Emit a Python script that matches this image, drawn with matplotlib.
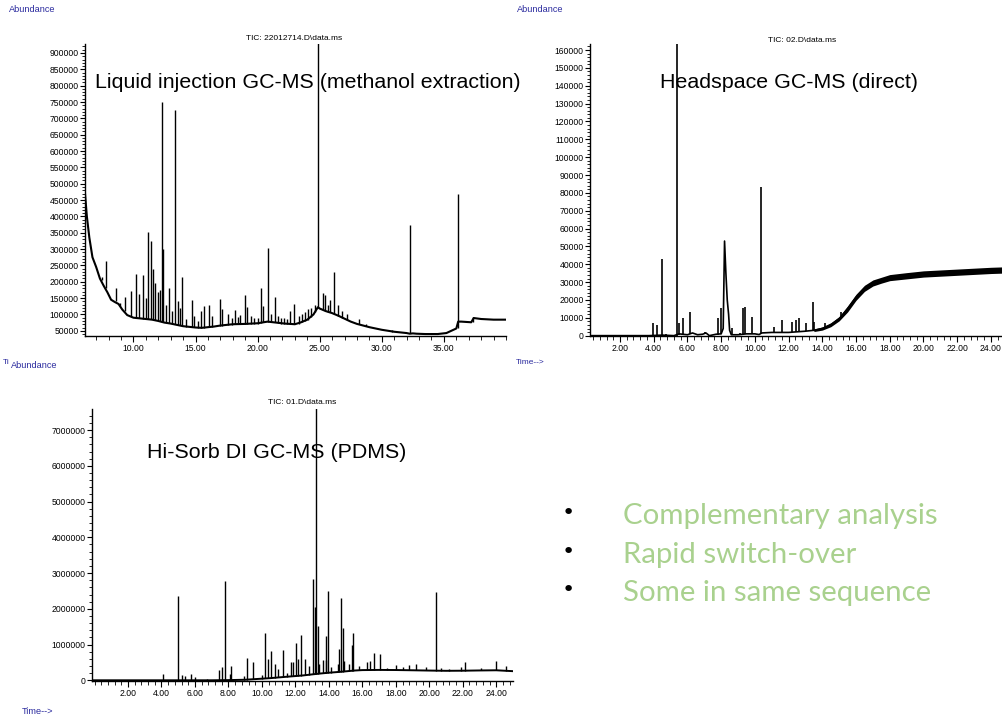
import matplotlib
matplotlib.use("Agg")
import matplotlib.pyplot as plt
from matplotlib.ticker import MultipleLocator, FixedLocator, FuncFormatter

plt.rcParams['font.family'] = ['Liberation Sans', 'DejaVu Sans']

W, H = 1003, 718

# ---------------- data: liquid injection (methanol extraction) ----------------
liq_base_t = [6.1, 6.25, 6.45, 6.7, 7.0, 7.3, 7.6, 7.9, 8.2, 8.5, 8.8, 9.1, 9.5, 10.0,
              10.5, 11.0, 11.5, 12.0, 12.5, 13.0, 13.5, 14.0, 14.5, 15.0, 15.5, 16.0,
              16.5, 17.0, 18.0, 19.0, 20.0, 20.8, 21.5, 22.2, 23.0, 23.5, 24.0, 24.5,
              24.85, 25.0, 25.5, 26.0, 26.5, 27.0, 27.5, 28.0, 29.0, 30.0, 31.0, 32.0,
              32.25, 32.5, 32.8, 33.5, 34.5, 35.2, 35.6, 36.0, 36.15, 36.4, 37.2, 37.4,
              38.0, 39.0, 40.0]
liq_base_y = [470000, 400000, 335000, 275000, 245000, 210000, 188000, 168000, 145000,
              138000, 132000, 115000, 98000, 90000, 88000, 86000, 84000, 80000, 75000,
              72000, 68000, 64000, 62000, 60000, 59000, 61000, 63000, 66000, 70000,
              71000, 73000, 78000, 75000, 72000, 70000, 76000, 84000, 100000, 122000,
              118000, 110000, 104000, 96000, 87000, 78000, 71000, 61000, 53000, 47000,
              43000, 41000, 42000, 41000, 40000, 40000, 43000, 50000, 57000, 78000,
              78000, 76000, 89000, 86000, 84000, 84000]
liq_peak_t = [7.50, 7.77, 8.58, 8.88, 9.32, 9.81, 10.19, 10.47, 10.78, 11.00, 11.18,
              11.43, 11.58, 11.72, 11.96, 12.10, 12.28, 12.39, 12.60, 12.88, 13.10,
              13.33, 13.57, 13.75, 13.93, 14.25, 14.68, 14.90, 15.20, 15.46, 15.67,
              16.08, 16.30, 16.94, 17.15, 17.58, 17.90, 18.15, 18.38, 18.60, 18.98,
              19.14, 19.45, 19.70, 20.00, 20.24, 20.45, 20.86, 21.10, 21.37, 21.64,
              21.90, 22.10, 22.40, 22.61, 22.96, 23.30, 23.60, 23.85, 24.05, 24.30,
              24.60, 24.89, 25.27, 25.45, 25.65, 25.81, 26.15, 26.47, 26.80, 27.23,
              28.20, 28.70, 30.80, 32.31, 36.10, 37.36]
liq_peak_h = [216000, 262000, 182000, 136000, 153000, 172000, 223000, 162000, 221000,
              150000, 352000, 325000, 240000, 195000, 170000, 175000, 750000, 300000,
              130000, 182000, 110000, 725000, 140000, 120000, 214000, 85000, 145000,
              95000, 80000, 109000, 126000, 129000, 95000, 147000, 118000, 102000,
              90000, 113000, 92000, 98000, 160000, 122000, 95000, 88000, 90000,
              182000, 126000, 303000, 100000, 154000, 95000, 88000, 90000, 85000,
              111000, 131000, 95000, 100000, 108000, 118000, 120000, 130000, 960000,
              167000, 160000, 130000, 144000, 231000, 129000, 110000, 102000, 85000,
              72000, 52000, 373000, 470000, 92000]
liq_peak_base = [205000, 180000, 140000, 125000, 110000, 95000, 90000, 88000, 87000,
                 86000, 86000, 85000, 85000, 84000, 82000, 80000, 78000, 77000, 76000,
                 74000, 72000, 70000, 68000, 67000, 66000, 63000, 62000, 61000, 60000,
                 60000, 60000, 62000, 62000, 65000, 66000, 68000, 69000, 70000, 70000,
                 71000, 71000, 71000, 71000, 71000, 72000, 74000, 76000, 78000, 77000,
                 76000, 74000, 72000, 72000, 71000, 70000, 70000, 72000, 76000, 80000,
                 84000, 92000, 108000, 122000, 115000, 112000, 108000, 106000, 102000,
                 96000, 90000, 84000, 70000, 64000, 47000, 42000, 60000, 78000]

# ---------------- data: headspace (direct) ----------------
hs_base_t = [0.22, 3.7, 4.5, 5.2, 5.5, 6.0, 6.3, 6.6, 6.9, 7.1, 7.3, 7.7, 8.0, 8.12,
             8.2, 8.28, 8.36, 8.44, 8.5, 8.6, 9.0, 9.5, 10.0, 10.25, 10.4, 11.0, 12.0,
             13.0, 13.5, 14.0, 14.5, 15.0, 15.5, 16.0, 16.5, 17.0, 17.5, 18.0, 19.0,
             20.0, 21.0, 22.0, 23.0, 24.0, 25.6]
hs_base_y = [0, 0, 300, 0, 1000, 500, 1500, 500, 800, 1500, 0, 800, 1000, 4000,
             53000, 35000, 20000, 12000, 3000, 500, 500, 1000, 1000, 600, 1500, 1800,
             1800, 2500, 3000, 4000, 6000, 9500, 15000, 21500, 26500, 29500, 31000,
             32500, 33500, 34500, 35000, 35500, 36000, 36500, 37000]
hs_band_t = [13.5, 14.0, 14.5, 15.0, 15.5, 16.0, 16.5, 17.0, 17.5, 18.0, 19.0, 20.0,
             21.0, 22.0, 23.0, 24.0, 25.6]
hs_band_lo = [2300, 3100, 5000, 8300, 13300, 19800, 24800, 27800, 29400, 30800, 31800,
              32800, 33300, 33800, 34300, 34800, 35300]
hs_band_hi = [3700, 4900, 7200, 10700, 16700, 23200, 28200, 31200, 32700, 34200, 35300,
              36300, 36800, 37300, 37800, 38300, 38800]
hs_peak_t = [3.98, 4.17, 4.47, 4.70, 5.38, 5.52, 5.76, 6.15, 7.06, 7.83, 7.97, 8.64,
             9.10, 9.31, 9.43, 9.83, 10.36, 11.11, 11.59, 12.20, 12.42, 12.60, 13.03,
             13.43, 13.50, 14.16, 15.09]
hs_peak_h = [6900, 5800, 42900, 1200, 175000, 7300, 9700, 13000, 2200, 9700, 15700,
             4100, 1500, 15300, 16200, 10400, 83400, 5000, 8800, 7800, 8800, 10000,
             6900, 18600, 7800, 6900, 13400]
hs_peak_base = [0, 0, 0, 0, 0, 500, 500, 800, 800, 500, 800, 500, 500, 700, 700, 900,
                800, 1800, 1800, 1800, 2000, 2000, 2500, 3000, 3000, 4000, 9500]

# ---------------- data: Hi-Sorb DI (PDMS) ----------------
hsb_base_t = [-0.15, 7.0, 8.0, 9.0, 9.5, 10.0, 10.5, 11.0, 11.5, 12.0, 12.5, 13.0,
              13.5, 14.0, 14.5, 15.0, 15.5, 16.0, 17.0, 18.0, 19.0, 20.0, 21.0, 22.0,
              23.0, 24.0, 25.0]
hsb_base_y = [0, 0, 5000, 15000, 30000, 45000, 60000, 80000, 100000, 118000, 138000,
              165000, 190000, 212000, 230000, 250000, 272000, 285000, 290000, 287000,
              280000, 272000, 265000, 268000, 275000, 280000, 255000]
hsb_peak_t = [3.53, 4.07, 4.99, 5.23, 5.41, 5.77, 6.03, 6.70, 7.46, 7.60, 7.82, 8.10,
              8.18, 8.94, 9.11, 9.47, 9.99, 10.17, 10.39, 10.55, 10.77, 10.95, 11.27,
              11.50, 11.75, 11.85, 12.06, 12.18, 12.32, 12.60, 12.80, 13.08, 13.16,
              13.24, 13.36, 13.44, 13.64, 13.80, 13.84, 13.92, 14.10, 14.53, 14.63,
              14.73, 14.83, 14.93, 15.23, 15.39, 15.47, 15.80, 16.25, 16.47, 16.67,
              17.03, 17.50, 18.02, 18.40, 18.76, 19.22, 19.80, 20.41, 20.70, 21.20,
              21.91, 22.11, 23.10, 24.00, 24.60]
hsb_peak_h = [20000, 167000, 2360000, 139000, 120000, 167000, 100000, 40000, 278000,
              380000, 2780000, 185000, 389000, 120000, 611000, 518000, 150000, 1320000,
              602000, 833000, 444000, 305000, 842000, 200000, 518000, 500000, 1040000,
              583000, 1280000, 583000, 400000, 2830000, 2060000, 7700000, 1530000,
              444000, 565000, 565000, 1230000, 2500000, 370000, 444000, 889000, 2300000,
              1460000, 537000, 444000, 1000000, 1320000, 400000, 509000, 537000, 750000,
              722000, 330000, 435000, 380000, 417000, 444000, 380000, 2480000, 330000,
              320000, 380000, 509000, 330000, 528000, 398000]
hsb_peak_base = [0, 0, 0, 0, 0, 0, 0, 0, 0, 0, 0, 10000, 10000, 15000, 20000, 30000,
                 45000, 50000, 55000, 60000, 70000, 80000, 90000, 100000, 110000,
                 110000, 120000, 125000, 130000, 140000, 150000, 170000, 175000, 180000,
                 185000, 190000, 200000, 205000, 205000, 210000, 215000, 230000, 235000,
                 240000, 245000, 250000, 260000, 270000, 270000, 280000, 290000, 290000,
                 290000, 290000, 285000, 285000, 285000, 280000, 280000, 275000, 270000,
                 265000, 265000, 265000, 270000, 275000, 280000, 270000]

titles = ["TIC: 22012714.D\\data.ms", "TIC: 02.D\\data.ms", "TIC: 01.D\\data.ms"]
labels = ["Liquid injection GC-MS (methanol extraction)", "Headspace GC-MS (direct)",
          "Hi-Sorb DI GC-MS (PDMS)"]
bullets = ["Complementary analysis", "Rapid switch-over", "Some in same sequence"]

# ---------------- drawing ----------------
fig = plt.figure(figsize=(W / 100, H / 100), dpi=100)
fig.patch.set_facecolor('white')


def ax_rect(left, right, top, bottom):
    return [left / W, 1 - bottom / H, (right - left) / W, (bottom - top) / H]


def style(ax, xmaj, xmin_step, ymaj, ymin_step):
    for s in ['top', 'right']:
        ax.spines[s].set_visible(False)
    for s in ['left', 'bottom']:
        ax.spines[s].set_linewidth(1.0)
    ax.xaxis.set_major_locator(FixedLocator(xmaj))
    ax.xaxis.set_minor_locator(MultipleLocator(xmin_step))
    ax.yaxis.set_major_locator(FixedLocator(ymaj))
    ax.yaxis.set_minor_locator(MultipleLocator(ymin_step))
    ax.xaxis.set_major_formatter(FuncFormatter(lambda v, p: f"{v:.2f}"))
    ax.yaxis.set_major_formatter(FuncFormatter(lambda v, p: f"{v:.0f}"))
    ax.tick_params(axis='both', which='major', labelsize=6.2, length=3.5, width=0.8,
                   pad=1.0, direction='out')
    ax.tick_params(axis='both', which='minor', length=2.0, width=0.6, direction='out')
    ax.tick_params(axis='x', which='major', length=4.5)
    ax.tick_params(axis='x', which='minor', length=3.0)


# Top-left
ax1 = fig.add_axes(ax_rect(85, 506, 44, 336))
ax1.plot(liq_base_t, liq_base_y, color='black', lw=1.5)
ax1.vlines(liq_peak_t, liq_peak_base, liq_peak_h, color='black', lw=1.0)
ax1.set_xlim(6.1, 40.0)
ax1.set_ylim(34000, 927500)
style(ax1, [10, 15, 20, 25, 30, 35], 1.0, list(range(50000, 900001, 50000)), 10000)

# Top-right
tr_left = 590
tr_right = tr_left + (25.6 - 0.22) * 16.86
ax2 = fig.add_axes(ax_rect(tr_left, tr_right, 44, 336))
ax2.fill_between(hs_band_t, hs_band_lo, hs_band_hi, color='black', lw=0)
ax2.plot(hs_base_t, hs_base_y, color='black', lw=1.2)
ax2.vlines(hs_peak_t, hs_peak_base, hs_peak_h, color='black', lw=1.2)
ax2.set_xlim(0.22, 25.6)
ax2.set_ylim(-200, 163400)
style(ax2, list(range(2, 25, 2)), 0.4, list(range(0, 160001, 10000)), 2000)

# Bottom
ax3 = fig.add_axes(ax_rect(92, 513, 409, 681))
ax3.plot(hsb_base_t, hsb_base_y, color='black', lw=1.4)
ax3.vlines(hsb_peak_t, hsb_peak_base, hsb_peak_h, color='black', lw=1.0)
ax3.set_xlim(-0.15, 25.0)
ax3.set_ylim(-20000, 7590000)
style(ax3, list(range(2, 25, 2)), 0.4, list(range(0, 7000001, 1000000)), 200000)


def ftext(x, y, s, **kw):
    fig.text(x / W, 1 - y / H, s, **kw)


blue = '#2a2a9e'
ftext(9, 9, "Abundance", fontsize=6.6, color=blue, va='center', ha='left')
ftext(517, 9, "Abundance", fontsize=6.6, color=blue, va='center', ha='left')
ftext(3, 362, "Ti", fontsize=6.0, color=blue, va='center', ha='left')
ftext(11, 366, "Abundance", fontsize=6.6, color=blue, va='center', ha='left')
ftext(516, 363, "Time-->", fontsize=6.0, color=blue, va='center', ha='left')
ftext(22, 711, "Time-->", fontsize=6.6, color=blue, va='center', ha='left')

# chart titles
ftext(294, 39, titles[0], fontsize=6.0, ha='center', va='center')
ftext(802, 40, titles[1], fontsize=6.0, ha='center', va='center')
ftext(302, 402, titles[2], fontsize=6.0, ha='center', va='center')

# big labels
ftext(95, 83, labels[0], fontsize=15.4, ha='left', va='center')
ftext(660, 83, labels[1], fontsize=15.4, ha='left', va='center')
ftext(147, 453, labels[2], fontsize=15.4, ha='left', va='center')

# bullets
green = '#a9d18e'
for i, (yb, s) in enumerate(zip([524, 563, 601], bullets)):
    ftext(568, yb - 11, "\u2022", fontsize=16, color='black', ha='center', va='center',
          family=['DejaVu Sans'])
    ftext(623, yb, s, fontsize=21.2, color=green, ha='left', va='baseline',
          family=['Lato', 'DejaVu Sans'])

fig.savefig("out.png", dpi=100, facecolor='white')
